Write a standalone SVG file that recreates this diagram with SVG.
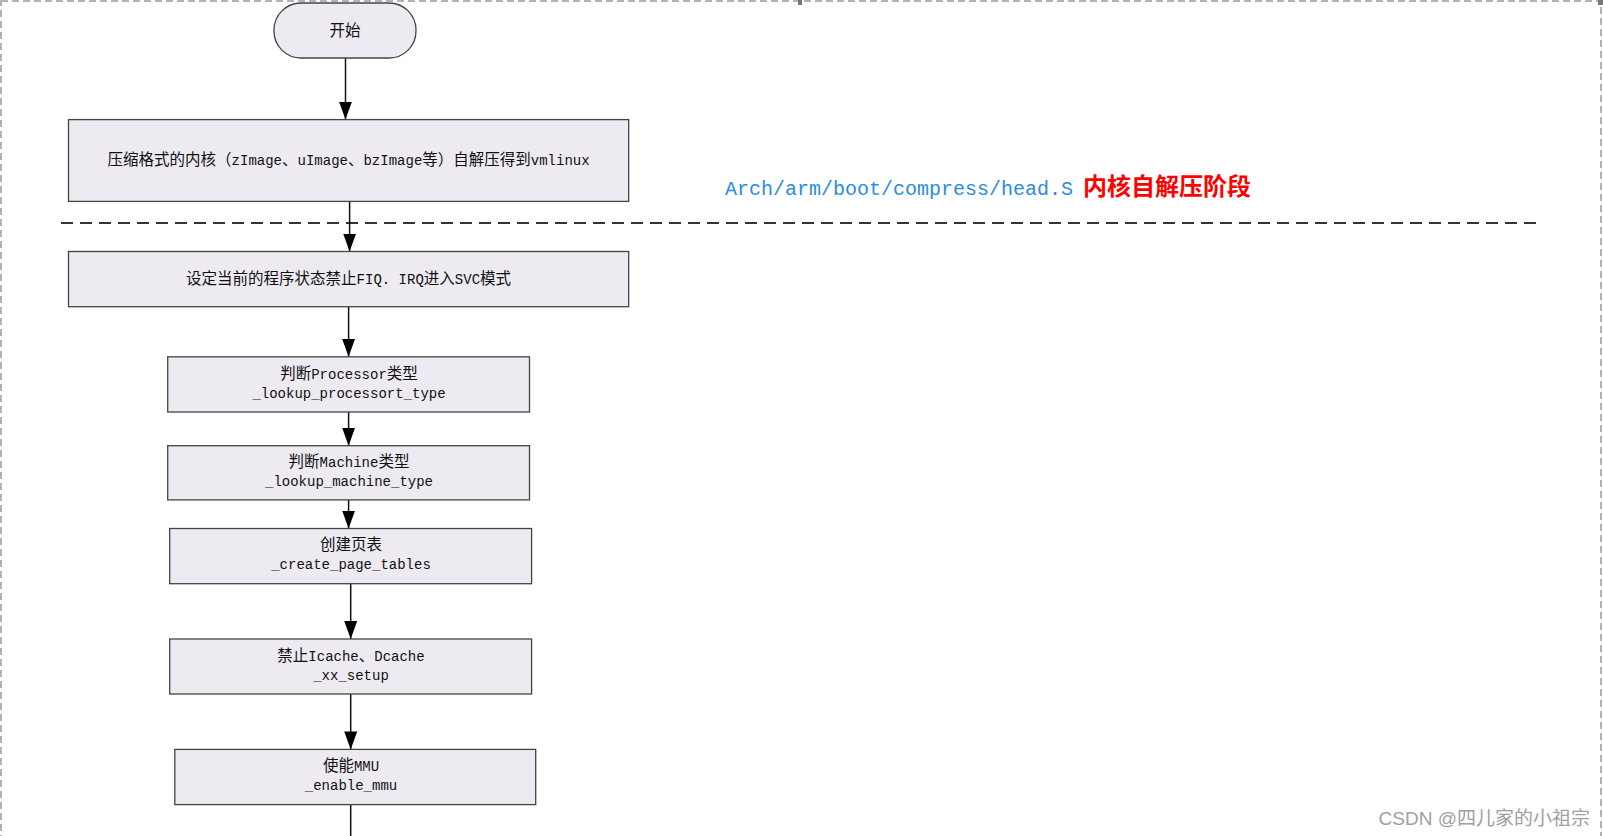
<svg xmlns="http://www.w3.org/2000/svg" width="1603" height="836" viewBox="0 0 1603 836">
<style>
.bg{fill:#ffffff}
.frame{fill:none;stroke:#999;stroke-width:1.5;stroke-dasharray:7 4}
.node{fill:#edeaf1;stroke:#444;stroke-width:1.3}
.t{font-family:"Liberation Mono","Noto Sans CJK SC",monospace;font-size:15.5px;fill:#111;text-anchor:middle}
.m{font-size:14px}
.conn{stroke:#111;stroke-width:1.5;fill:none}
.divider{stroke:#333;stroke-width:2;stroke-dasharray:12 7;fill:none}
</style>
<defs>
<marker id="arr" markerUnits="userSpaceOnUse" markerWidth="20" markerHeight="16" viewBox="0 -8 20 16" refX="18" refY="0" orient="auto">
<path d="M0,-6.5 L18,0 L0,6.5 Z" fill="#000"/>
</marker>
</defs>
<rect class="bg" x="0" y="0" width="1603" height="836"/>
<rect class="frame" x="1" y="1" width="1600" height="850"/>
<rect x="798" y="0" width="4" height="5" fill="#777"/>
<rect x="1598" y="0" width="5" height="5" fill="#777"/>
<line class="divider" x1="61" y1="223" x2="1536" y2="223"/>
<g id="connectors">
<line class="conn" x1="345.5" y1="58" x2="345.5" y2="119.6" marker-end="url(#arr)"/>
<line class="conn" x1="349.6" y1="201.4" x2="349.6" y2="251.5" marker-end="url(#arr)"/>
<line class="conn" x1="348.6" y1="306.7" x2="348.6" y2="356.8" marker-end="url(#arr)"/>
<line class="conn" x1="348.6" y1="412" x2="348.6" y2="445.7" marker-end="url(#arr)"/>
<line class="conn" x1="348.6" y1="499.9" x2="348.6" y2="528.5" marker-end="url(#arr)"/>
<line class="conn" x1="350.7" y1="583.7" x2="350.7" y2="639" marker-end="url(#arr)"/>
<line class="conn" x1="350.7" y1="694" x2="350.7" y2="749.4" marker-end="url(#arr)"/>
<line class="conn" x1="350.7" y1="804.6" x2="350.7" y2="836"/>
</g>
<g id="start">
<rect class="node" x="274" y="3" width="142" height="55" rx="27" ry="27"/>
<text class="t" x="345" y="36">开始</text>
</g>
<g id="n1">
<rect class="node" x="68.5" y="119.6" width="560.2" height="81.8"/>
<text class="t" x="348.6" y="165">压缩格式的内核（<tspan class="m">zImage</tspan>、<tspan class="m">uImage</tspan>、<tspan class="m">bzImage</tspan>等）自解压得到<tspan class="m">vmlinux</tspan></text>
</g>
<g id="label">
<text x="725" y="195" style="font-family:'Liberation Mono',monospace;font-size:20px;fill:#2a8de0">Arch/arm/boot/compress/head.S</text>
<text x="1083" y="195" style="font-family:'Noto Sans CJK SC',sans-serif;font-size:24px;font-weight:bold;fill:#ff0000">内核自解压阶段</text>
</g>
<g id="n2">
<rect class="node" x="68.5" y="251.5" width="560.2" height="55.2"/>
<text class="t" x="348.6" y="283.5">设定当前的程序状态禁止<tspan class="m">FIQ. IRQ</tspan>进入<tspan class="m">SVC</tspan>模式</text>
</g>
<g id="n3">
<rect class="node" x="167.7" y="356.8" width="361.8" height="55.2"/>
<text class="t" x="349" y="379">判断<tspan class="m">Processor</tspan>类型</text>
<text class="t m" x="349" y="398">_lookup_processort_type</text>
</g>
<g id="n4">
<rect class="node" x="167.7" y="445.7" width="361.8" height="54.2"/>
<text class="t" x="349" y="467">判断<tspan class="m">Machine</tspan>类型</text>
<text class="t m" x="349" y="486">_lookup_machine_type</text>
</g>
<g id="n5">
<rect class="node" x="169.7" y="528.5" width="361.9" height="55.2"/>
<text class="t" x="351" y="550">创建页表</text>
<text class="t m" x="351" y="569">_create_page_tables</text>
</g>
<g id="n6">
<rect class="node" x="169.7" y="639" width="361.9" height="55"/>
<text class="t" x="351" y="661">禁止<tspan class="m">Icache</tspan>、<tspan class="m">Dcache</tspan></text>
<text class="t m" x="351" y="680">_xx_setup</text>
</g>
<g id="n7">
<rect class="node" x="174.8" y="749.4" width="360.9" height="55.2"/>
<text class="t" x="351" y="771">使能<tspan class="m">MMU</tspan></text>
<text class="t m" x="351" y="790">_enable_mmu</text>
</g>
<text x="1590" y="825" style="font-family:'Liberation Sans','Noto Sans CJK SC',sans-serif;font-size:19px;fill:#a0a0a0;text-anchor:end">CSDN @四儿家的小祖宗</text>
</svg>
